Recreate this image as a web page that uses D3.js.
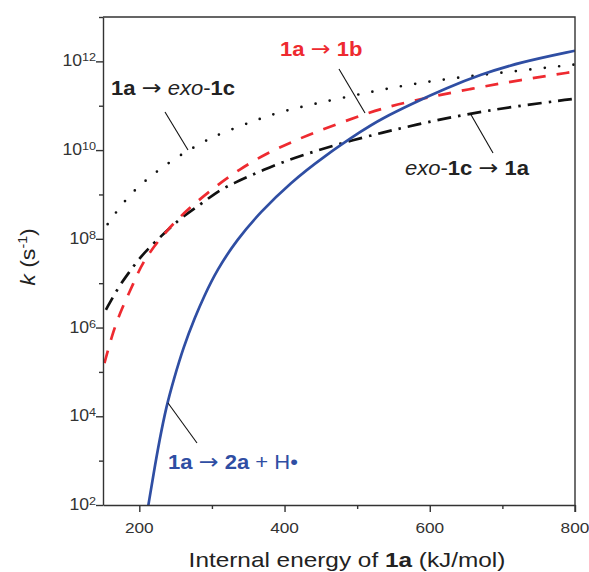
<!DOCTYPE html>
<html>
<head>
<meta charset="utf-8">
<script src="https://cdn.jsdelivr.net/npm/d3@7"></script>
<style>
  body { margin: 0; background: #fff; }
  svg { font-family: "Liberation Sans", Arial, sans-serif; }
</style>
</head>
<body>
<script>
// energies (kJ/mol) and log10(k), one pair of arrays per curve
// 1a -> 2a + H (solid blue)
var hEnergy   = [212, 219.7, 227.9, 237.2, 247.2, 261, 277.1, 288.5, 306.9, 334.4, 366.5, 407.8, 453.6, 508.7, 531.6, 577.5, 623.4, 669.2, 724.3, 800];
var hLogK     = [1.95, 2.71, 3.47, 4.22, 4.82, 5.57, 6.25, 6.68, 7.30, 7.98, 8.60, 9.26, 9.85, 10.46, 10.69, 11.06, 11.40, 11.70, 11.98, 12.24];

// 1a -> 1b (red dashed)
var bEnergy   = [152, 164.6, 176.2, 192.2, 205.9, 238.1, 265.6, 302.3, 339, 375.7, 412.3, 444.5, 508, 545.4, 586.7, 655.5, 724.3, 800];
var bLogK     = [5.2, 5.95, 6.44, 7.0, 7.53, 8.2, 8.65, 9.15, 9.58, 9.93, 10.2, 10.42, 10.8, 10.99, 11.15, 11.38, 11.58, 11.77];

// exo-1c -> 1a (black dash-dot)
var exoEnergy = [154, 171.5, 185.3, 201.4, 219.7, 256.4, 283.9, 306.9, 325.2, 380.3, 430.8, 481.1, 536.2, 577.5, 646.3, 715.1, 800];
var exoLogK   = [6.4, 6.92, 7.23, 7.59, 7.9, 8.47, 8.77, 9.06, 9.22, 9.63, 9.92, 10.17, 10.4, 10.56, 10.8, 10.98, 11.16];

// 1a -> exo-1c (black dotted)
var cEnergy   = [156.4, 170.1, 186.7, 205.9, 246.8, 287.7, 307.8, 369, 407.8, 531.6, 591.2, 651, 712.9, 800];
var cLogK     = [8.33, 8.65, 8.98, 9.29, 9.8, 10.18, 10.35, 10.73, 10.93, 11.36, 11.53, 11.66, 11.77, 11.93];

var xMajor = [200, 400, 600, 800];
var xMinor = [300, 500, 700];
var yMajorExp = [2, 4, 6, 8, 10, 12];
var yMinorExp = [3, 5, 7, 9, 11, 13];

// set up svg
var W = 589, H = 572;
var margin = {top: 17, right: 14, bottom: 67, left: 103};
var svg = d3.select("body").append("svg")
            .attr("width", W)
            .attr("height", H);

var x = d3.scaleLinear().domain([150, 800]).range([margin.left, W - margin.right]);
var y = d3.scaleLog().domain([1e2, 1e13]).range([H - margin.bottom, margin.top]);

var axisColor = "#333";
var arrowFont = "DejaVu Sans";

// curves
function pairs(es, ks) {
	return es.map(function(e, i) { return [e, Math.pow(10, ks[i])]; });
}
var line = d3.line()
             .x(function(d) { return x(d[0]); })
             .y(function(d) { return y(d[1]); })
             .curve(d3.curveBasis);

var curves = [
	{data: pairs(cEnergy, cLogK), color: "#111", width: 2.7, dash: "0 14.5", cap: "round"},
	{data: pairs(exoEnergy, exoLogK), color: "#111", width: 2.7, dash: "14 7 2.5 7", cap: "butt"},
	{data: pairs(bEnergy, bLogK), color: "#ee2a30", width: 2.7, dash: "13 11", cap: "butt"},
	{data: pairs(hEnergy, hLogK), color: "#2f4ea3", width: 2.7, dash: null, cap: "butt"}
];

svg.append("defs").append("clipPath").attr("id", "clip")
   .append("rect")
   .attr("x", margin.left).attr("y", margin.top)
   .attr("width", W - margin.right - margin.left)
   .attr("height", H - margin.bottom - margin.top);

svg.append("g").attr("clip-path", "url(#clip)")
   .selectAll("path")
   .data(curves)
   .enter().append("path")
   .attr("d", function(d) { return line(d.data); })
   .attr("fill", "none")
   .attr("stroke", function(d) { return d.color; })
   .attr("stroke-width", function(d) { return d.width; })
   .attr("stroke-dasharray", function(d) { return d.dash; })
   .attr("stroke-linecap", function(d) { return d.cap; });

// x axis with major and minor ticks
svg.append("g")
	.attr("transform", "translate(0," + (H - margin.bottom) + ")")
	.call(d3.axisBottom(x).tickValues(xMajor).tickSize(7).tickSizeOuter(0).tickFormat(""));
svg.append("g")
	.attr("transform", "translate(0," + (H - margin.bottom) + ")")
	.call(d3.axisBottom(x).tickValues(xMinor).tickSize(4).tickSizeOuter(0).tickFormat(""))
	.select(".domain").remove();

// y axis
svg.append("g")
	.attr("transform", "translate(" + margin.left + ",0)")
	.call(d3.axisLeft(y).tickValues(yMajorExp.map(function(e) { return Math.pow(10, e); }))
	        .tickSize(7).tickSizeOuter(0).tickFormat(""));
svg.append("g")
	.attr("transform", "translate(" + margin.left + ",0)")
	.call(d3.axisLeft(y).tickValues(yMinorExp.map(function(e) { return Math.pow(10, e); }))
	        .tickSize(4).tickSizeOuter(0).tickFormat(""))
	.select(".domain").remove();

svg.selectAll(".domain, .tick line")
   .attr("stroke", axisColor)
   .attr("stroke-width", 1.4);

// tick labels (text is a bit wider than Arial in the reference, hence the x-stretch)
svg.append("g").selectAll("text")
   .data(xMajor).enter().append("text")
   .attr("transform", function(d) { return "translate(" + x(d) + "," + 533 + ") scale(1.15,1)"; })
   .attr("text-anchor", "middle")
   .attr("font-size", 15)
   .attr("fill", axisColor)
   .text(function(d) { return d; });

var yLab = svg.append("g").selectAll("text")
	.data(yMajorExp).enter().append("text")
	.attr("transform", function(d) { return "translate(" + (margin.left - 7) + "," + (y(Math.pow(10, d)) + 5) + ") scale(1.1,1)"; })
	.attr("text-anchor", "end")
	.attr("font-size", 16)
	.attr("fill", axisColor);
yLab.append("tspan").text("10");
yLab.append("tspan").attr("dy", -5).attr("font-size", 11.5).text(function(d) { return d; });

// frame: top and right sides
svg.append("path")
   .attr("d", "M" + margin.left + "," + margin.top + "H" + (W - margin.right) + "V" + (H - margin.bottom + 7))
   .attr("fill", "none")
   .attr("stroke", axisColor)
   .attr("stroke-width", 1.4);

// axis titles
var xt = svg.append("text")
   .attr("transform", "translate(347,567) scale(1.16,1)")
   .attr("text-anchor", "middle")
   .attr("font-size", 21)
   .attr("fill", "#222");
xt.append("tspan").text("Internal energy of ");
xt.append("tspan").attr("font-weight", "bold").text("1a");
xt.append("tspan").text(" (kJ/mol)");

var yt = svg.append("text")
   .attr("transform", "translate(35,257) rotate(-90) scale(1.1,1)")
   .attr("text-anchor", "middle")
   .attr("font-size", 21)
   .attr("fill", "#222");
yt.append("tspan").attr("font-style", "italic").text("k");
yt.append("tspan").text(" (s");
yt.append("tspan").attr("dy", -8).attr("font-size", 13).text("-1");
yt.append("tspan").attr("dy", 8).text(")");

// annotations: text pieces [text, bold, italic]; "->" is drawn with a wider font
function label(px, py, color, parts) {
	var t = svg.append("text")
	           .attr("transform", "translate(" + px + "," + py + ") scale(1.13,1)")
	           .attr("font-size", 19.5)
	           .attr("fill", color);
	parts.forEach(function(p) {
		var s = t.append("tspan")
		 .attr("font-weight", p[1] ? "bold" : "normal")
		 .attr("font-style", p[2] ? "italic" : "normal")
		 .text(p[0]);
		if (p[0] == "\u2192") s.attr("font-family", arrowFont).attr("font-size", 21);
	});
}
label(111, 95, "#222", [["1a", 1], [" ", 0], ["\u2192", 0], [" ", 0], ["exo", 0, 1], ["-", 0], ["1c", 1]]);
label(280, 56, "#ee2a30", [["1a", 1], [" ", 0], ["\u2192", 0], [" ", 0], ["1b", 1]]);
label(405, 175, "#222", [["exo", 0, 1], ["-", 0], ["1c", 1], [" ", 0], ["\u2192", 0], [" ", 0], ["1a", 1]]);
label(168, 469, "#2f4ea3", [["1a", 1], [" ", 0], ["\u2192", 0], [" ", 0], ["2a", 1], [" + H\u2022", 0]]);

// leader lines from each label to its curve (pixel ends)
var leaderPix = [
	[165, 112, 188, 150],
	[339, 69, 365, 113],
	[470, 113, 493, 153],
	[168, 403, 197, 443]
];
svg.append("g").selectAll("line")
   .data(leaderPix).enter().append("line")
   .attr("x1", function(d) { return d[0]; })
   .attr("y1", function(d) { return d[1]; })
   .attr("x2", function(d) { return d[2]; })
   .attr("y2", function(d) { return d[3]; })
   .attr("stroke", "#111")
   .attr("stroke-width", 1.1);
</script>
</body>
</html>
